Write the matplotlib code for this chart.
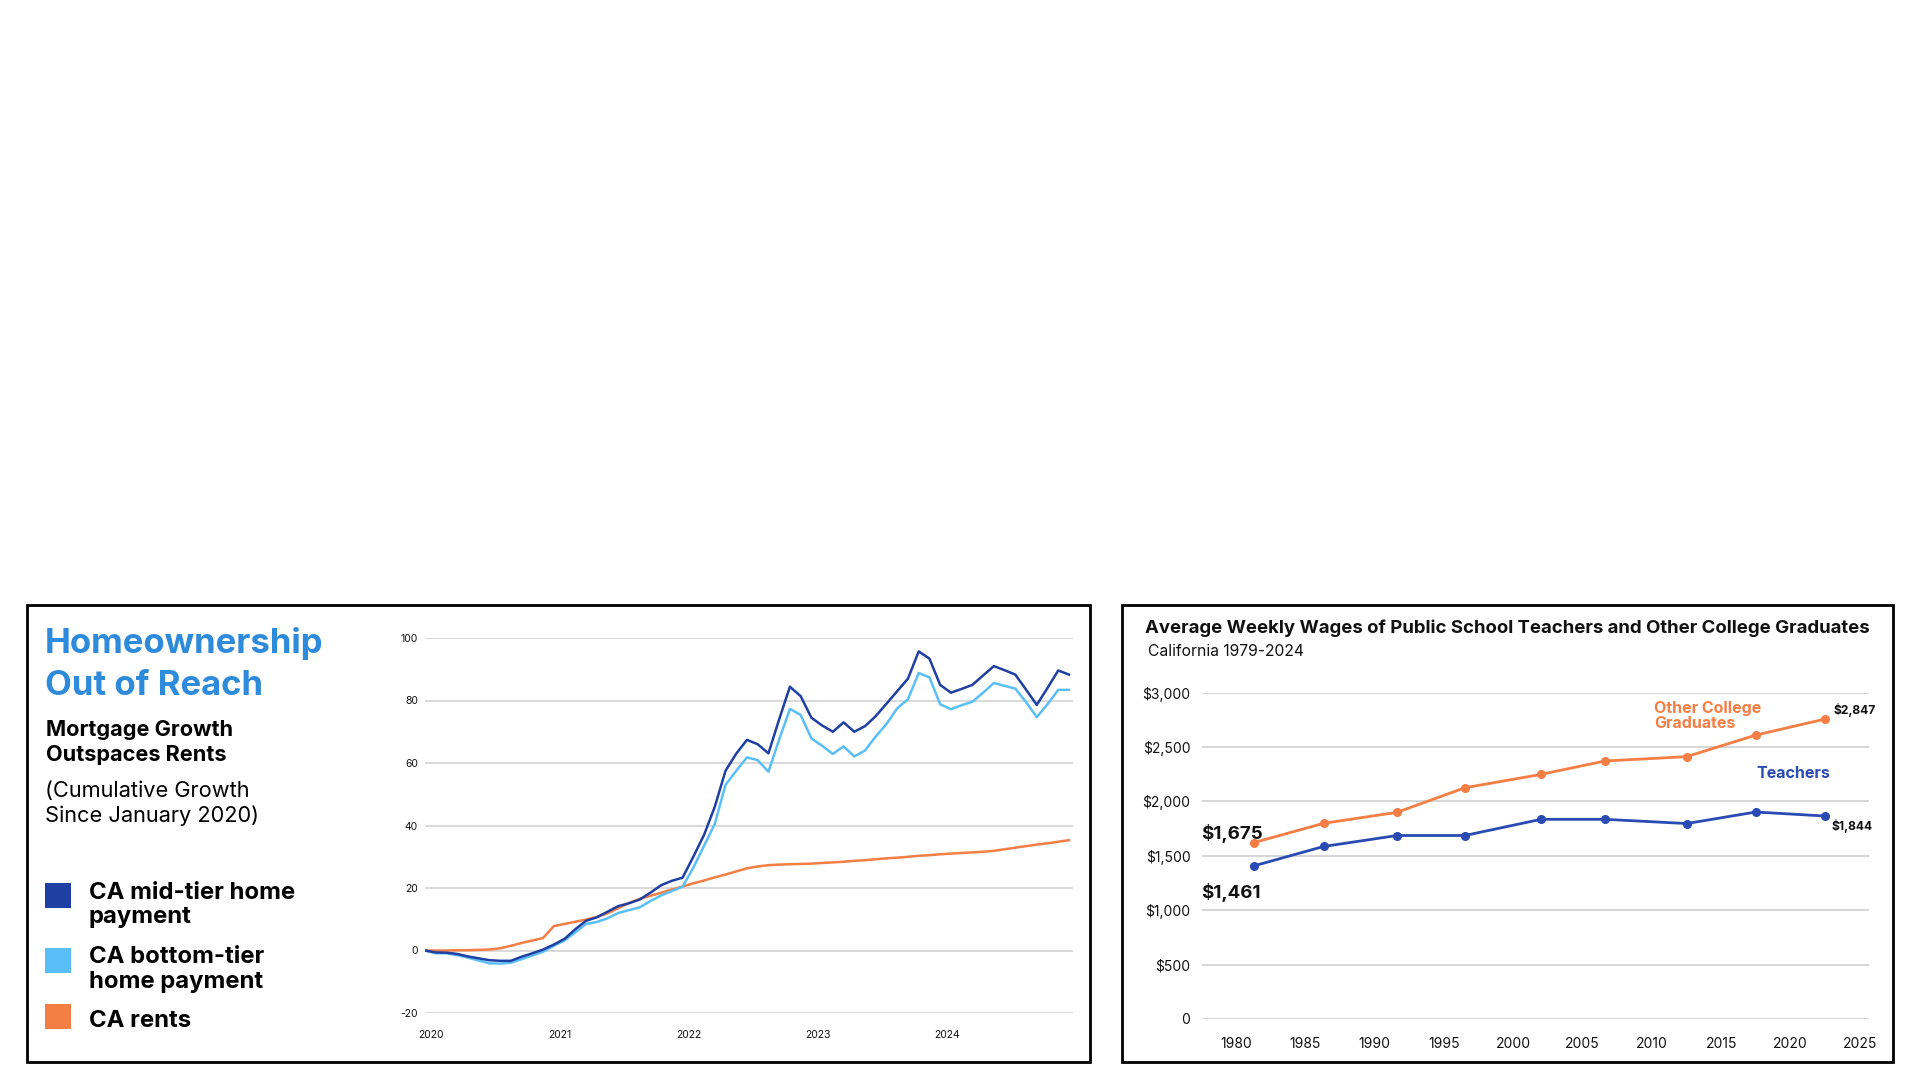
import matplotlib
matplotlib.use("Agg")
import matplotlib.pyplot as plt
from matplotlib.patches import Rectangle

plt.rcParams['font.family'] = ['Inter', 'DejaVu Sans']

# ---------------- Data: left chart (cumulative growth since Jan 2020, %) ----------------
months = list(range(61))  # Jan 2020 .. Jan 2025
year_ticks = [0, 12, 24, 36, 48]
year_labels = ["2020", "2021", "2022", "2023", "2024"]
y_ticks_left = [-20, 0, 20, 40, 60, 80, 100]

mid_tier = [0, -0.6, -0.7, -1.1, -1.9, -2.5, -3.1, -3.3, -3.3, -2.0,
            -0.9, 0.3, 1.9, 3.7, 6.8, 9.5, 10.6, 12.4, 14.2, 15.1,
            16.3, 18.5, 20.9, 22.3, 23.3, 30.0, 37.0, 46.0, 57.5, 63.0,
            67.4, 66.0, 63.1, 74.0, 84.4, 81.4, 74.5, 72.0, 70.0, 73.0,
            70.0, 71.8, 75.0, 79.0, 83.0, 87.0, 95.7, 93.4, 85.0, 82.5,
            83.7, 85.0, 88.0, 91.0, 89.7, 88.3, 83.5, 78.6, 84.0, 89.6,
            88.3]
bottom_tier = [0, -0.9, -0.9, -1.5, -2.3, -3.2, -4.1, -4.2, -3.9, -2.8,
               -1.6, -0.4, 1.5, 3.2, 5.8, 8.5, 9.1, 10.3, 12.0, 12.9,
               13.8, 15.8, 17.6, 19.0, 20.4, 26.5, 33.5, 40.5, 53.0, 57.5,
               61.8, 60.9, 57.2, 67.5, 77.3, 75.4, 67.9, 65.5, 62.9, 65.3,
               62.1, 64.0, 68.5, 72.5, 77.5, 80.4, 88.8, 87.4, 78.8, 77.2,
               78.5, 79.6, 82.5, 85.6, 84.7, 83.8, 79.5, 74.7, 78.8, 83.4,
               83.4]
rents = [0, 0, 0, 0.1, 0.1, 0.2, 0.3, 0.7, 1.5, 2.4,
         3.2, 4.0, 7.8, 8.5, 9.2, 9.9, 10.7, 11.9, 13.5, 15.2,
         16.5, 17.5, 18.5, 19.5, 20.5, 21.5, 22.4, 23.4, 24.3, 25.3,
         26.3, 26.9, 27.3, 27.5, 27.6, 27.7, 27.8, 28.0, 28.2, 28.4,
         28.7, 28.9, 29.2, 29.5, 29.7, 30.0, 30.3, 30.5, 30.8, 31.0,
         31.2, 31.4, 31.6, 31.9, 32.4, 32.9, 33.4, 33.9, 34.3, 34.8,
         35.3]
series_names = ["CA mid-tier home\npayment", "CA bottom-tier\nhome payment", "CA rents"]

# ---------------- Data: right chart (average weekly wages, $) ----------------
periods = [1981.25, 1986.3, 1991.6, 1996.5, 2002.0, 2006.6, 2012.5, 2017.5, 2022.5]
other_grads = [1621, 1799, 1900, 2126, 2249, 2372, 2412, 2610, 2758]
teachers = [1407, 1586, 1687, 1687, 1836, 1836, 1797, 1903, 1866]
x_ticks_right = [1980, 1985, 1990, 1995, 2000, 2005, 2010, 2015, 2020, 2025]
y_ticks_right = [0, 500, 1000, 1500, 2000, 2500, 3000]
y_labels_right = ["0", "$500", "$1,000", "$1,500", "$2,000", "$2,500", "$3,000"]

DARK_BLUE = "#1F3FA3"
LIGHT_BLUE = "#5BBFF7"
ORANGE = "#F47E44"
TITLE_BLUE = "#2E8ADB"
TEACH_BLUE = "#2A4BB3"
GRID = "#D3D3D3"

W, H = 1920, 1080
fig = plt.figure(figsize=(19.2, 10.8), dpi=100)
fig.patch.set_facecolor("white")


def fx(x):
    return x / W


def fy(y):
    return 1 - y / H


def box(x0, y0, x1, y1, **kw):
    fig.patches.append(Rectangle((fx(x0), fy(y1)), fx(x1) - fx(x0), fy(y0) - fy(y1),
                                 transform=fig.transFigure, **kw))


def txt(x, y, s, **kw):
    fig.text(fx(x), fy(y), s, va="baseline", ha=kw.pop("ha", "left"), **kw)


# panel borders
box(27, 605, 1090, 1062, fill=False, edgecolor="black", linewidth=2)
box(1122, 605, 1893, 1062, fill=False, edgecolor="black", linewidth=2)

# ---------------- Left panel text ----------------
txt(45, 653, "Homeownership", fontsize=25, fontweight="bold", color=TITLE_BLUE)
txt(45, 695, "Out of Reach", fontsize=25, fontweight="bold", color=TITLE_BLUE)
txt(46, 736, "Mortgage Growth", fontsize=15.6, fontweight="bold", color="black")
txt(46, 761, "Outspaces Rents", fontsize=15.6, fontweight="bold", color="black")
txt(45, 797, "(Cumulative Growth", fontsize=15.7, color="black")
txt(45, 822, "Since January 2020)", fontsize=15.7, color="black")

leg_colors = [DARK_BLUE, LIGHT_BLUE, ORANGE]
leg_sq = [(883, 908), (948, 973), (1004, 1029)]
leg_text_lines = [[(899, "CA mid-tier home"), (923, "payment")],
                  [(963, "CA bottom-tier"), (988, "home payment")],
                  [(1027, "CA rents")]]
for c, (y0, y1), lines in zip(leg_colors, leg_sq, leg_text_lines):
    box(45, y0, 71, y1, facecolor=c, edgecolor="none")
    for yb, s in lines:
        txt(89, yb, s, fontsize=17.2, fontweight="bold", color="black")

# ---------------- Left chart ----------------
ax1 = fig.add_axes([fx(425), fy(1013), fx(1072.5) - fx(425), fy(638) - fy(1013)])
ax1.set_xlim(0, 60.33)
ax1.set_ylim(-20, 100)
ax1.plot(months, rents, color=ORANGE, lw=1.8, label=series_names[2], zorder=3)
ax1.plot(months, bottom_tier, color=LIGHT_BLUE, lw=1.8, label=series_names[1], zorder=4)
ax1.plot(months, mid_tier, color=DARK_BLUE, lw=1.8, label=series_names[0], zorder=5)
ax1.set_yticks(y_ticks_left)
ax1.set_yticklabels([str(v) for v in y_ticks_left])
ax1.set_xticks([m + 0.6 for m in year_ticks])
ax1.set_xticklabels(year_labels, ha="center")
ax1.grid(axis="y", color=GRID, lw=1.2)
ax1.set_axisbelow(True)
for sp in ax1.spines.values():
    sp.set_visible(False)
ax1.tick_params(axis="both", length=0, labelsize=7.5, labelcolor="#111111")
ax1.tick_params(axis="y", pad=5)
ax1.tick_params(axis="x", pad=12)

# ---------------- Right panel ----------------
txt(1145, 633, "Average Weekly Wages of Public School Teachers and Other College Graduates",
    fontsize=13.4, fontweight="bold", color="#111111")
txt(1148, 656, "California 1979-2024", fontsize=11.3, color="#111111")

ax2 = fig.add_axes([fx(1201.6), fy(1019), fx(1868.5) - fx(1201.6), fy(692.7) - fy(1019)])
ax2.set_xlim(1977.5, 2025.63)
ax2.set_ylim(0, 3000)
ax2.plot(periods, other_grads, color=ORANGE, lw=2, marker="o", ms=5.5, zorder=4)
ax2.plot(periods, teachers, color=TEACH_BLUE, lw=2, marker="o", ms=5.5, zorder=4)
ax2.set_yticks(y_ticks_right)
ax2.set_yticklabels(y_labels_right)
ax2.set_xticks(x_ticks_right)
ax2.set_xticklabels([str(v) for v in x_ticks_right])
ax2.grid(axis="y", color=GRID, lw=1.3)
ax2.set_axisbelow(True)
for sp in ax2.spines.values():
    sp.set_visible(False)
ax2.tick_params(axis="both", length=0, labelsize=10, labelcolor="#111111")
ax2.tick_params(axis="y", pad=8)
ax2.tick_params(axis="x", pad=13)

txt(1654, 713, "Other College", fontsize=11.5, fontweight="bold", color=ORANGE)
txt(1654, 728, "Graduates", fontsize=11.5, fontweight="bold", color=ORANGE)
txt(1756, 778, "Teachers", fontsize=11.5, fontweight="bold", color=TEACH_BLUE)
txt(1833, 714, "$2,847", fontsize=8.7, fontweight="bold", color="#111111")
txt(1832, 830, "$1,844", fontsize=8.7, fontweight="bold", color="#111111")
txt(1201, 839, "$1,675", fontsize=13.5, fontweight="bold", color="#111111")
txt(1201, 898, "$1,461", fontsize=13.5, fontweight="bold", color="#111111")

fig.savefig("out.png", dpi=100, facecolor="white")
